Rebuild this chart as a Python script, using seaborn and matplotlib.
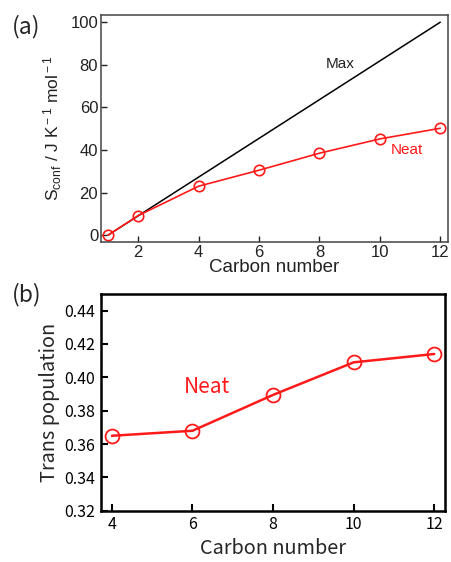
import numpy as np
import pandas as pd
import seaborn as sns
import matplotlib.pyplot as plt

# data
carbon_a = [1, 2, 4, 6, 8, 10, 12]
s_conf_neat = [0.0, 9.2, 23.0, 30.5, 38.5, 45.2, 50.2]
carbon_max = [1, 12]
s_conf_max = [0.0, 100.0]

carbon_b = [4, 6, 8, 10, 12]
trans_pop = [0.365, 0.368, 0.3895, 0.409, 0.414]

sns.set_theme(style="white")
plt.rcParams['font.family'] = ['Liberation Sans', 'DejaVu Sans']
plt.rcParams['mathtext.fontset'] = 'custom'
plt.rcParams['mathtext.rm'] = 'Liberation Sans'
plt.rcParams['mathtext.it'] = 'Liberation Sans'

red = "#ff1a1a"
cjk = ['Noto Sans CJK JP', 'DejaVu Sans']

fig = plt.figure(figsize=(4.51, 5.62), dpi=100)
ax_a = fig.add_axes([0.224, 0.569, 0.769, 0.404])
ax_b = fig.add_axes([0.224, 0.091, 0.763, 0.386])

# ---- panel (a)
df_max = pd.DataFrame({"n": carbon_max, "s": s_conf_max})
df_neat = pd.DataFrame({"n": carbon_a, "s": s_conf_neat})
sns.lineplot(data=df_max, x="n", y="s", ax=ax_a, color="black", lw=1.1)
sns.lineplot(data=df_neat, x="n", y="s", ax=ax_a, color=red, lw=1.2,
             marker="o", markersize=7.5, markerfacecolor="none",
             markeredgecolor=red, markeredgewidth=1.2)
ax_a.set_xlim(0.77, 12.25)
ax_a.set_ylim(-3.3, 103.3)
ax_a.set_xticks([2, 4, 6, 8, 10, 12])
ax_a.set_yticks([0, 20, 40, 60, 80, 100])
ax_a.tick_params(direction="in", length=4, width=1, labelsize=12, colors="#222222",
                 bottom=True, left=True, pad=2)
for sp in ax_a.spines.values():
    sp.set_color("#444444")
    sp.set_linewidth(1.1)
ax_a.set_xlabel("Carbon number", fontsize=13.5, labelpad=-0.5, color="#222222")
ax_a.set_ylabel(r"S$_{\rm conf}$ / J K$^{\rm -1}$ mol$^{\rm -1}$", fontsize=12.5,
                labelpad=5, color="#222222")
ax_a.text(8.7, 80.5, "Max", fontsize=11, color="#222222", ha="center", va="center")
ax_a.text(10.9, 40, "Neat", fontsize=11, color=red, ha="center", va="center")
fig.text(0.027, 0.952, "(a)", fontsize=16.5, ha="left", va="center", family=cjk)

# ---- panel (b)
df_b = pd.DataFrame({"n": carbon_b, "t": trans_pop})
sns.lineplot(data=df_b, x="n", y="t", ax=ax_b, color=red, lw=1.8,
             marker="o", markersize=10, markerfacecolor="none",
             markeredgecolor=red, markeredgewidth=1.3)
ax_b.set_xlim(3.73, 12.27)
ax_b.set_ylim(0.32, 0.45)
ax_b.set_xticks([4, 6, 8, 10, 12])
ax_b.set_yticks([0.32, 0.34, 0.36, 0.38, 0.40, 0.42, 0.44])
ax_b.set_yticklabels([f"{v:.2f}" for v in ax_b.get_yticks()])
ax_b.tick_params(direction="in", length=5, width=1.5, labelsize=11.5, colors="black",
                 bottom=True, left=True, pad=4)
for lab in ax_b.get_xticklabels() + ax_b.get_yticklabels():
    lab.set_family(cjk)
for sp in ax_b.spines.values():
    sp.set_color("black")
    sp.set_linewidth(1.8)
ax_b.set_xlabel("Carbon number", fontsize=14.3, family=cjk, labelpad=3)
ax_b.set_ylabel("Trans population", fontsize=14.3, family=cjk, labelpad=3)
ax_b.text(6.35, 0.3945, "Neat", fontsize=15, color=red, family=cjk, ha="center", va="center")
fig.text(0.027, 0.476, "(b)", fontsize=16.5, ha="left", va="center", family=cjk)

fig.savefig("out.png", dpi=100)
